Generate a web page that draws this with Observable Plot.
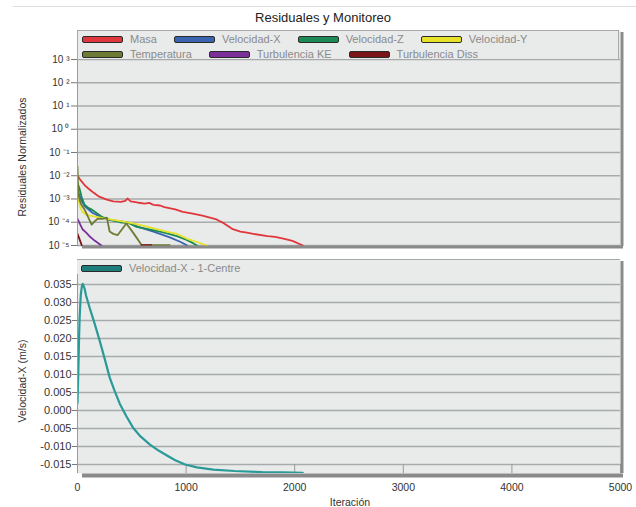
<!DOCTYPE html>
<html>
<head>
<meta charset="utf-8">
<script src="https://cdn.jsdelivr.net/npm/d3@7"></script>
<script src="https://cdn.jsdelivr.net/npm/@observablehq/plot@0.6"></script>
<style>
  html, body { margin: 0; padding: 0; background: #fff; }
  #wrap { position: relative; width: 636px; height: 507px; overflow: hidden; font-family: "Liberation Sans", Arial, sans-serif; }
  #wrap svg { position: absolute; left: 0; }
  .abs { position: absolute; white-space: nowrap; }
  .legend { position: absolute; left: 77px; width: 542px; background: #e9ebeb; box-sizing: border-box; }
  .lrow { position: absolute; left: 4px; display: flex; align-items: center; }
  .item { display: flex; align-items: center; margin-right: 17px; }
  .sw { width: 39px; height: 5px; border: 1px solid #2a2a2a; border-radius: 2px; margin-right: 7px; }
  .lt { font-size: 11px; color: #8a8a8a; line-height: 12px; }
</style>
</head>
<body>
<div id="wrap"></div>
<script>
// ---------- data ----------
const iterTicks = [0, 1000, 2000, 3000, 4000, 5000];
const residTicks = [1e3, 1e2, 1e1, 1e0, 1e-1, 1e-2, 1e-3, 1e-4, 1e-5];
const velTicks = [0.035, 0.030, 0.025, 0.020, 0.015, 0.010, 0.005, 0.000, -0.005, -0.010, -0.015];

const seriesNames = ["Masa", "Velocidad-X", "Velocidad-Z", "Velocidad-Y", "Temperatura", "Turbulencia KE", "Turbulencia Diss"];
const seriesColors = ["#e0373c", "#3a63b0", "#1b8a55", "#e6e22a", "#6e7b35", "#7b2f98", "#7a1418"];

// residuals: iteration and log10(residual)
const masaIter = [0, 30, 65, 100, 140, 200, 270, 330, 400, 440, 460, 490, 550, 620, 660, 700, 760, 800, 900, 970, 1050, 1150, 1280, 1350, 1430, 1500, 1560, 1620, 1750, 1820, 1895, 1980, 2075];
const masaExp  = [-2.0, -2.2, -2.4, -2.55, -2.7, -2.9, -3.03, -3.1, -3.12, -3.08, -2.98, -3.1, -3.15, -3.2, -3.17, -3.25, -3.28, -3.35, -3.45, -3.55, -3.62, -3.72, -3.88, -4.05, -4.3, -4.4, -4.45, -4.5, -4.6, -4.63, -4.7, -4.8, -5.0];

const velXIter = [0, 30, 65, 140, 230, 296, 390, 480, 560, 700, 850, 950, 1010];
const velXExp  = [-2.6, -3.0, -3.3, -3.6, -3.8, -3.9, -3.95, -4.03, -4.2, -4.4, -4.65, -4.85, -5.0];

const velZIter = [0, 18, 40, 65, 100, 140, 185, 230, 300, 390, 480, 545, 650, 760, 840, 915, 1000, 1065, 1100];
const velZExp  = [-2.3, -2.55, -2.95, -3.25, -3.38, -3.48, -3.63, -3.78, -3.9, -4.0, -4.05, -4.2, -4.3, -4.4, -4.5, -4.6, -4.75, -4.9, -5.0];

const velYIter = [0, 10, 20, 46, 80, 150, 270, 400, 510, 650, 820, 915, 1005, 1100, 1190];
const velYExp  = [-2.5, -3.0, -3.3, -3.55, -3.68, -3.75, -3.85, -3.95, -4.05, -4.2, -4.4, -4.5, -4.7, -4.85, -5.0];

const tempIter = [0, 6, 20, 35, 65, 100, 130, 160, 185, 230, 270, 296, 330, 370, 410, 450, 520, 590, 700, 850];
const tempExp  = [-1.6, -2.7, -3.05, -3.25, -3.45, -3.8, -4.1, -3.95, -3.85, -3.85, -3.8, -4.4, -4.5, -4.55, -4.3, -4.05, -4.5, -4.98, -4.98, -4.98];

const keIter = [0, 20, 46, 80, 110, 160, 220];
const keExp  = [-3.85, -4.05, -4.3, -4.45, -4.6, -4.8, -5.0];

const dissIter = [0, 20, 40, 45, 590, 630, 680];
const dissExp  = [-4.5, -4.75, -5.0, NaN, -4.98, -4.98, -4.98];

// monitor point
const monName = "Velocidad-X - 1-Centre";
const monColor = "#2a9a98";
const monIter = [0, 5, 10, 15, 20, 30, 40, 48, 65, 80, 111, 157, 204, 250, 296, 340, 389, 450, 510, 580, 667, 750, 824, 900, 991, 1100, 1250, 1444, 1700, 1900, 2074];
const monVel  = [0.002, 0.008, 0.014, 0.021, 0.026, 0.032, 0.0345, 0.0352, 0.0339, 0.0318, 0.0286, 0.0242, 0.0194, 0.0144, 0.0092, 0.0056, 0.0019, -0.0016, -0.0047, -0.0072, -0.0095, -0.0112, -0.0125, -0.0138, -0.0150, -0.0158, -0.0164, -0.0168, -0.0171, -0.0172, -0.0173];

// ---------- build ----------
const seriesIter = [masaIter, velXIter, velZIter, velYIter, tempIter, keIter, dissIter];
const seriesExp = [masaExp, velXExp, velZExp, velYExp, tempExp, keExp, dissExp];
const series = seriesNames.map((name, i) => ({
  name, color: seriesColors[i],
  rows: seriesIter[i].map((it, j) => ({iter: it, value: Math.pow(10, seriesExp[i][j])}))
}));
const monRows = monIter.map((it, j) => ({iter: it, vel: monVel[j]}));

const supMap = {"-": "\u207B", "0": "\u2070", "1": "\u00B9", "2": "\u00B2", "3": "\u00B3", "4": "\u2074", "5": "\u2075", "6": "\u2076", "7": "\u2077", "8": "\u2078", "9": "\u2079"};
const supFmt = d => "10 " + String(Math.round(Math.log10(d))).split("").map(c => supMap[c]).join("");

const wrap = document.getElementById("wrap");
const bg = "#e9ebeb", grid = "#a7abab", shadow = "#8a8a8a", txt = "#333";
const yTop = [Math.pow(10, -5.043), Math.pow(10, 4.247)];

const topChart = Plot.plot({
  width: 636, height: 252,
  marginLeft: 77, marginRight: 16, marginTop: 30, marginBottom: 6,
  style: {fontFamily: "Liberation Sans, Arial, sans-serif", color: txt, background: "transparent", overflow: "visible"},
  x: {domain: [0, 5000], axis: null},
  y: {type: "log", domain: yTop, axis: null},
  marks: [
    Plot.frame({fill: bg, stroke: null}),
    Plot.ruleY(residTicks, {stroke: grid, strokeWidth: 1.6}),
    ...series.map(s => Plot.line(s.rows, {x: "iter", y: "value", stroke: s.color, strokeWidth: 1.8, clip: true})),
    Plot.ruleX([0], {stroke: "#9a9a9a", strokeWidth: 1}),
    Plot.ruleX([5000], {stroke: shadow, strokeWidth: 3, dx: 1.5, insetTop: 2}),
    Plot.ruleY([1e-5], {stroke: shadow, strokeWidth: 3, dy: 1.5, insetLeft: 5, insetRight: -3}),
    Plot.axisY(residTicks, {tickFormat: supFmt, tickSize: 6, tickPadding: 2, fontSize: 10, stroke: "#777", color: txt, label: null})
  ]
});
topChart.style.top = "0px";
wrap.appendChild(topChart);

const botChart = Plot.plot({
  width: 636, height: 255,
  marginLeft: 77, marginRight: 16, marginTop: 7, marginBottom: 34,
  style: {fontFamily: "Liberation Sans, Arial, sans-serif", color: txt, background: "transparent", overflow: "visible"},
  x: {domain: [0, 5000], axis: null},
  y: {domain: [-0.0175, 0.041944], axis: null},
  marks: [
    Plot.frame({fill: bg, stroke: null}),
    Plot.ruleY(velTicks, {stroke: grid, strokeWidth: 1.6}),
    Plot.tickX(iterTicks, {x: d => d, stroke: "#9a9a9a", strokeWidth: 1, insetTop: 205}),
    Plot.line(monRows, {x: "iter", y: "vel", stroke: monColor, strokeWidth: 2.2, clip: true}),
    Plot.ruleX([0], {stroke: "#9a9a9a", strokeWidth: 1}),
    Plot.ruleY([0.041944], {stroke: "#a8a8a8", strokeWidth: 1}),
    Plot.ruleX([5000], {stroke: shadow, strokeWidth: 3, dx: 1.5, insetTop: 2}),
    Plot.ruleY([-0.0175], {stroke: shadow, strokeWidth: 4, dy: 2, insetLeft: 5, insetRight: -3}),
    Plot.axisY(velTicks, {tickFormat: d => d.toFixed(3), tickSize: 5, tickPadding: 1, fontSize: 11, stroke: "#777", color: txt, label: null}),
    Plot.axisX(iterTicks, {tickFormat: d => String(d), tickSize: 0, tickPadding: 10, fontSize: 10.5, color: txt, label: null})
  ]
});
botChart.style.top = "252px";
wrap.appendChild(botChart);

// ---------- html text & legends ----------
function addText(str, css) {
  const d = document.createElement("div");
  d.className = "abs";
  d.textContent = str;
  Object.assign(d.style, css);
  wrap.appendChild(d);
  return d;
}
const hline = document.createElement("div");
Object.assign(hline.style, {position: "absolute", left: "13px", top: "6px", width: "623px", height: "1px", background: "#dcdcdc"});
wrap.appendChild(hline);

addText("Residuales y Monitoreo", {left: "323px", top: "17px", transform: "translate(-50%,-50%)", fontSize: "13px", color: "#222"});
addText("Residuales Normalizados", {left: "22px", top: "157px", transform: "translate(-50%,-50%) rotate(-90deg)", fontSize: "10.5px", color: txt});
addText("Velocidad-X (m/s)", {left: "22px", top: "381px", transform: "translate(-50%,-50%) rotate(-90deg)", fontSize: "10.5px", color: txt});
addText("Iteración", {left: "350px", top: "502px", transform: "translate(-50%,-50%)", fontSize: "10.5px", color: txt});

function makeLegend(topPx, heightPx, rows, bordered) {
  const box = document.createElement("div");
  box.className = "legend";
  box.style.top = topPx + "px";
  box.style.height = heightPx + "px";
  if (bordered) box.style.border = "1px solid #a8a8a8";
  rows.forEach((items, r) => {
    const row = document.createElement("div");
    row.className = "lrow";
    row.style.top = (r === 0 ? 2 : 17) + "px";
    items.forEach(it => {
      const item = document.createElement("div");
      item.className = "item";
      const sw = document.createElement("div");
      sw.className = "sw";
      sw.style.background = it.color;
      const t = document.createElement("div");
      t.className = "lt";
      t.textContent = it.name;
      item.appendChild(sw); item.appendChild(t);
      row.appendChild(item);
    });
    box.appendChild(row);
  });
  wrap.appendChild(box);
}
makeLegend(30, 30, [series.slice(0, 4), series.slice(4)], true);
makeLegend(260, 14, [[{name: monName, color: "#1d7d7b"}]], false);
</script>
</body>
</html>
